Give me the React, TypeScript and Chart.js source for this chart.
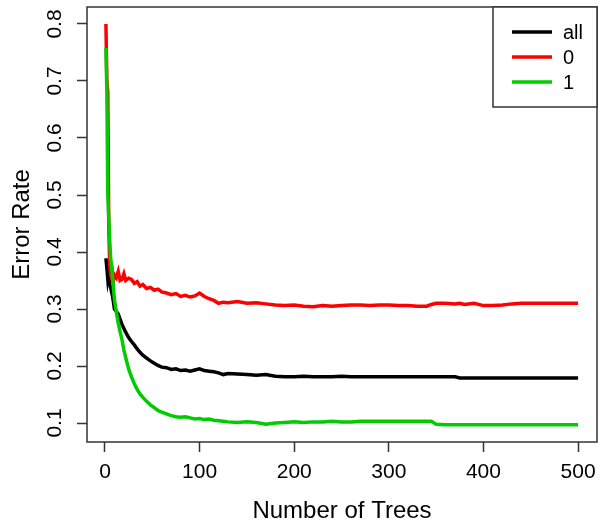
import React, { useEffect, useRef } from "react";
import { Chart, registerables } from "chart.js";

Chart.register(...registerables);

const trees = [
  1, 2, 3, 4, 5, 6, 7, 8, 9, 10,
  12, 14, 16, 18, 20, 22, 25, 28, 31, 34,
  37, 40, 44, 48, 52, 56, 60, 65, 70, 75,
  80, 85, 90, 95, 100, 105, 110, 115, 120, 125,
  130, 140, 150, 160, 170, 180, 190, 200, 210, 220,
  230, 240, 250, 260, 270, 280, 290, 300, 310, 320,
  330, 340, 345, 350, 360, 370, 375, 380, 390, 400,
  410, 420, 430, 440, 450, 460, 470, 480, 490, 500,
];

const errAll = [
  0.389, 0.372, 0.352, 0.362, 0.345, 0.338, 0.330, 0.322, 0.312, 0.300,
  0.296, 0.291, 0.282, 0.273, 0.266, 0.259, 0.250, 0.243, 0.237, 0.230,
  0.224, 0.219, 0.214, 0.209, 0.205, 0.201, 0.198, 0.197, 0.194, 0.195,
  0.192, 0.193, 0.191, 0.193, 0.195, 0.192, 0.191, 0.190, 0.188, 0.185,
  0.187, 0.186, 0.185, 0.184, 0.185, 0.182, 0.181, 0.181, 0.182, 0.181,
  0.181, 0.181, 0.182, 0.181, 0.181, 0.181, 0.181, 0.181, 0.181, 0.181,
  0.181, 0.181, 0.181, 0.181, 0.181, 0.181, 0.179, 0.179, 0.179, 0.179,
  0.179, 0.179, 0.179, 0.179, 0.179, 0.179, 0.179, 0.179, 0.179, 0.179,
];

const err0 = [
  0.800, 0.700, 0.680, 0.443, 0.380, 0.360, 0.355, 0.363, 0.350, 0.360,
  0.355, 0.366, 0.350, 0.352, 0.362, 0.350, 0.354, 0.352, 0.345, 0.348,
  0.340, 0.343, 0.336, 0.338, 0.333, 0.335, 0.330, 0.328, 0.325, 0.327,
  0.322, 0.324, 0.321, 0.323, 0.328, 0.322, 0.318, 0.315, 0.310, 0.312,
  0.311, 0.313, 0.310, 0.311, 0.309, 0.307, 0.306, 0.307, 0.305, 0.304,
  0.306, 0.305, 0.306, 0.307, 0.307, 0.306, 0.307, 0.307, 0.306, 0.306,
  0.305, 0.305, 0.308, 0.310, 0.310, 0.309, 0.310, 0.308, 0.310, 0.306,
  0.306, 0.307, 0.309, 0.310, 0.310, 0.310, 0.310, 0.310, 0.310, 0.310,
];

const err1 = [
  0.758, 0.680, 0.500, 0.460, 0.420, 0.390, 0.374, 0.355, 0.335, 0.316,
  0.295, 0.275, 0.260, 0.246, 0.228, 0.214, 0.195, 0.181, 0.169, 0.159,
  0.151, 0.145, 0.138, 0.132, 0.127, 0.122, 0.119, 0.116, 0.113, 0.111,
  0.110, 0.111, 0.109, 0.107, 0.108, 0.106, 0.107, 0.105, 0.104, 0.103,
  0.102, 0.101, 0.102, 0.101, 0.098, 0.100, 0.101, 0.102, 0.101, 0.102,
  0.102, 0.103, 0.102, 0.102, 0.103, 0.103, 0.103, 0.103, 0.103, 0.103,
  0.103, 0.103, 0.103, 0.098, 0.097, 0.097, 0.097, 0.097, 0.097, 0.097,
  0.097, 0.097, 0.097, 0.097, 0.097, 0.097, 0.097, 0.097, 0.097, 0.097,
];

const seriesNames = ["all", "0", "1"];
const seriesColors = ["#000000", "#ff0000", "#00cc00"];
const xTicks = [0, 100, 200, 300, 400, 500];
const yTicks = [0.1, 0.2, 0.3, 0.4, 0.5, 0.6, 0.7, 0.8];

const FONT = "'Liberation Sans', Arial, sans-serif";
const AXIS_COLOR = "#333333";

const boxPlugin = {
  id: "rbox",
  afterDraw(chart: any) {
    const { ctx, chartArea } = chart;
    ctx.save();
    ctx.strokeStyle = AXIS_COLOR;
    ctx.lineWidth = 1.5;
    ctx.strokeRect(chartArea.left, chartArea.top, chartArea.right - chartArea.left, chartArea.bottom - chartArea.top);
    // legend box (R style, top-right)
    const lw = 104;
    const lh = 100;
    const lx = chartArea.right - lw;
    const ly = chartArea.top;
    ctx.fillStyle = "#ffffff";
    ctx.fillRect(lx, ly, lw, lh);
    ctx.strokeRect(lx, ly, lw, lh);
    ctx.font = `20px ${FONT}`;
    ctx.textBaseline = "middle";
    ctx.textAlign = "left";
    seriesNames.forEach((name, i) => {
      const y = ly + 25 + i * 25;
      ctx.strokeStyle = seriesColors[i];
      ctx.lineWidth = 3.5;
      ctx.beginPath();
      ctx.moveTo(lx + 19, y);
      ctx.lineTo(lx + 59, y);
      ctx.stroke();
      ctx.fillStyle = "#000000";
      ctx.fillText(name, lx + 70, y + 1);
    });
    ctx.restore();
  },
};

export default function App() {
  const ref = useRef<HTMLCanvasElement>(null);
  useEffect(() => {
    if (!ref.current) return;
    const seriesValues = [errAll, err0, err1];
    const chart = new Chart(ref.current, {
      type: "line",
      data: {
        datasets: seriesValues.map((vals, i) => ({
          label: seriesNames[i],
          data: trees.map((t, j) => ({ x: t, y: vals[j] })),
          borderColor: seriesColors[i],
          borderWidth: 3.5,
          pointRadius: 0,
          tension: 0,
          fill: false,
          order: 3 - i,
        })),
      },
      options: {
        responsive: false,
        animation: false,
        events: [],
        layout: { padding: { left: 0, top: 7, right: 7, bottom: 0 } },
        plugins: { legend: { display: false }, tooltip: { enabled: false } },
        scales: {
          x: {
            type: "linear",
            min: -19,
            max: 520,
            afterBuildTicks: (s: any) => {
              s.ticks = xTicks.map((v) => ({ value: v }));
            },
            afterFit: (s: any) => {
              s.height = 85;
              s.paddingLeft = 0;
              s.paddingRight = 0;
            },
            grid: { drawOnChartArea: false, drawTicks: true, tickLength: 10, tickWidth: 1.5, tickColor: AXIS_COLOR },
            border: { display: false },
            ticks: {
              padding: 8,
              maxRotation: 0,
              color: "#000",
              font: { family: FONT, size: 21 },
              callback: (v: any) => String(v),
            },
            title: {
              display: true,
              text: "Number of Trees",
              color: "#000",
              font: { family: FONT, size: 24 },
              padding: { top: 0, bottom: 1 },
            },
          },
          y: {
            type: "linear",
            min: 0.0667,
            max: 0.8298,
            afterBuildTicks: (s: any) => {
              s.ticks = yTicks.map((v) => ({ value: v }));
            },
            afterFit: (s: any) => {
              s.width = 87;
              s.paddingTop = 0;
              s.paddingBottom = 0;
            },
            grid: { drawOnChartArea: false, drawTicks: true, tickLength: 10, tickWidth: 1.5, tickColor: AXIS_COLOR },
            border: { display: false },
            ticks: {
              padding: 7,
              minRotation: 90,
              maxRotation: 90,
              crossAlign: "center",
              color: "#000",
              font: { family: FONT, size: 21 },
              callback: (v: any) => Number(v).toFixed(1),
            },
            title: {
              display: true,
              text: "Error Rate",
              color: "#000",
              font: { family: FONT, size: 24 },
              padding: { top: 8, bottom: 0 },
            },
          },
        },
      },
      plugins: [boxPlugin],
    });
    return () => chart.destroy();
  }, []);
  return (
    <div style={{ position: "fixed", left: 0, top: 0, width: 604, height: 527, background: "#fff" }}>
      <canvas ref={ref} width={604} height={527} style={{ display: "block" }} />
    </div>
  );
}
